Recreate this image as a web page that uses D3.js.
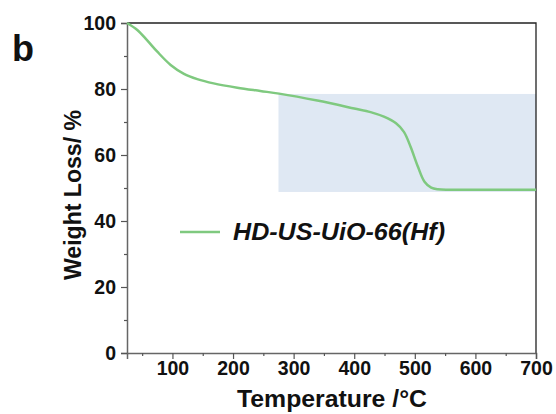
<!DOCTYPE html>
<html>
<head>
<meta charset="utf-8">
<script src="https://cdn.jsdelivr.net/npm/d3@7"></script>
<style>
  body { margin: 0; background: #fff; }
  text { font-family: "Liberation Sans", Arial, sans-serif; font-weight: bold; fill: #111; }
</style>
</head>
<body>
<svg id="chart" width="556" height="414"></svg>
<script>
// TGA curve
const temps   = [25, 42, 58, 75, 97, 119, 141, 168, 207, 245, 276, 339, 400, 427, 449, 469, 482, 493, 505, 516, 527, 538, 560, 600, 650, 700];
const weights = [100, 97.9, 94.8, 91.3, 87.3, 84.6, 83.0, 81.7, 80.4, 79.4, 78.6, 76.5, 74.1, 73.0, 71.6, 69.6, 67.0, 62.5, 56.5, 51.9, 50.1, 49.6, 49.5, 49.5, 49.5, 49.5];
const xTicks = [100, 200, 300, 400, 500, 600, 700];
const xMinor = [50, 150, 250, 350, 450, 550, 650];
const yTicks = [0, 20, 40, 60, 80, 100];
const yMinor = [10, 30, 50, 70, 90];
const shadeX = [275, 700];
const shadeY = [48.8, 78.5];
const seriesName = "HD-US-UiO-66(Hf)";

const margin = { top: 23, right: 20, bottom: 61, left: 127 };
const width = 556 - margin.left - margin.right;
const height = 414 - margin.top - margin.bottom;

const svg = d3.select("#chart");
const g = svg.append("g").attr("transform", `translate(${margin.left},${margin.top})`);

const x = d3.scaleLinear().domain([25, 700]).range([0, width]);
const y = d3.scaleLinear().domain([0, 100]).range([height, 0]);

// shaded region
g.append("rect")
    .attr("x", x(shadeX[0]))
    .attr("y", y(shadeY[1]))
    .attr("width", x(shadeX[1]) - x(shadeX[0]))
    .attr("height", y(shadeY[0]) - y(shadeY[1]))
    .attr("fill", "#dfe8f3");

// frame: top and right
g.append("path")
    .attr("d", `M0,0H${width}V${height}`)
    .attr("fill", "none")
    .attr("stroke", "#222")
    .attr("stroke-width", 1.3);

// bottom axis
const xAxis = g.append("g")
    .attr("transform", `translate(0,${height})`)
    .call(d3.axisBottom(x).tickValues(xTicks).tickSize(6).tickPadding(2));
g.append("g")
    .attr("transform", `translate(0,${height})`)
    .call(d3.axisBottom(x).tickValues(xMinor).tickSize(3).tickFormat(""))
    .select(".domain").remove();

// left axis
const yAxis = g.append("g")
    .call(d3.axisLeft(y).tickValues(yTicks).tickSize(6).tickPadding(5));
g.append("g")
    .call(d3.axisLeft(y).tickValues(yMinor).tickSize(3).tickFormat(""))
    .select(".domain").remove();

g.selectAll(".domain").attr("stroke", "#666").attr("stroke-width", 1.5);
g.selectAll(".tick line").attr("stroke", "#555").attr("stroke-width", 1.2);
xAxis.selectAll(".tick text").style("font-size", "19.5px").attr("fill", "#111");
yAxis.selectAll(".tick text").style("font-size", "19.5px").attr("fill", "#111").attr("dy", "0.35em");

// the curve
const line = d3.line()
    .x((d, i) => x(temps[i]))
    .y(d => y(d))
    .curve(d3.curveCatmullRom.alpha(0.5));

g.append("path")
    .datum(weights)
    .attr("d", line)
    .attr("fill", "none")
    .attr("stroke", "#7fc97f")
    .attr("stroke-width", 2.5);

// legend
g.append("line")
    .attr("x1", 180 - margin.left).attr("x2", 220 - margin.left)
    .attr("y1", 232 - margin.top).attr("y2", 232 - margin.top)
    .attr("stroke", "#7fc97f")
    .attr("stroke-width", 2.5);
g.append("text")
    .attr("x", 233 - margin.left)
    .attr("y", 240 - margin.top)
    .attr("textLength", 212)
    .attr("lengthAdjust", "spacingAndGlyphs")
    .style("font-size", "23px")
    .style("font-style", "italic")
    .text(seriesName);

// axis titles
svg.append("text")
    .attr("x", 332)
    .attr("y", 407)
    .attr("text-anchor", "middle")
    .attr("textLength", 190)
    .attr("lengthAdjust", "spacingAndGlyphs")
    .style("font-size", "24px")
    .text("Temperature /\u00B0C");

svg.append("text")
    .attr("transform", "translate(81,195) rotate(-90)")
    .attr("text-anchor", "middle")
    .attr("textLength", 170)
    .attr("lengthAdjust", "spacingAndGlyphs")
    .style("font-size", "24px")
    .text("Weight Loss/ %");

// panel letter
svg.append("text")
    .attr("x", 12)
    .attr("y", 61)
    .style("font-size", "36px")
    .text("b");
</script>
</body>
</html>
